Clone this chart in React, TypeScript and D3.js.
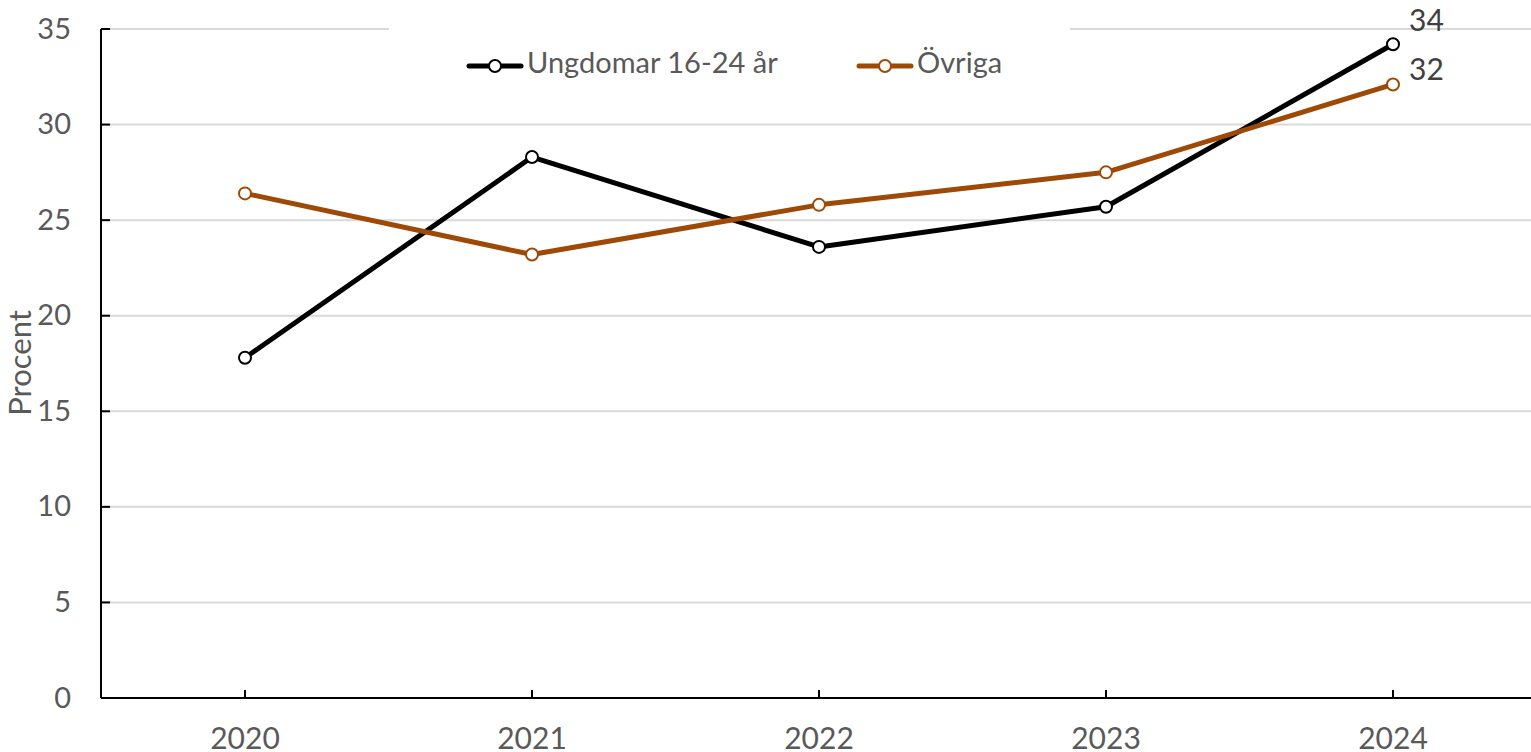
import React, { useRef, useEffect } from "react";
import * as d3 from "d3";

const years = ["2020", "2021", "2022", "2023", "2024"];
const ungdomar = [17.8, 28.3, 23.6, 25.7, 34.2];
const ovriga = [26.4, 23.2, 25.8, 27.5, 32.1];
const yTicks = [0, 5, 10, 15, 20, 25, 30, 35];
const seriesNames = ["Ungdomar 16-24 år", "Övriga"];
const endLabels = ["34", "32"];

const width = 1531;
const height = 752;
const colors = ["#000000", "#9E4A06"];
const fontFamily = "Lato, 'Open Sans', sans-serif";
const textColor = "#595959";

const App = () => {
  const ref = useRef(null);

  useEffect(() => {
    document.body.style.margin = "0";
    const svg = d3.select(ref.current);
    svg.selectAll("*").remove();

    const x = d3.scalePoint().domain(years).range([245, 1393]);
    const left = 101;
    const y = d3.scaleLinear().domain([0, 35]).range([698, 29]);

    // gridlines
    svg
      .append("g")
      .selectAll("line")
      .data(yTicks.filter((t) => t > 0))
      .enter()
      .append("line")
      .attr("x1", left)
      .attr("x2", width)
      .attr("y1", (d) => y(d))
      .attr("y2", (d) => y(d))
      .attr("stroke", "#D9D9D9")
      .attr("stroke-width", 2);

    // legend background hides the top gridline
    svg
      .append("rect")
      .attr("x", 389)
      .attr("y", 20)
      .attr("width", 681)
      .attr("height", 80)
      .attr("fill", "#fff");

    // y tick labels
    svg
      .append("g")
      .selectAll("text")
      .data(yTicks)
      .enter()
      .append("text")
      .attr("x", 71)
      .attr("y", (d) => y(d))
      .attr("dy", "0.33em")
      .attr("text-anchor", "end")
      .attr("font-family", fontFamily)
      .attr("font-size", 29)
      .attr("fill", textColor)
      .text((d) => d);

    // y ticks (inside)
    svg
      .append("g")
      .selectAll("line")
      .data(yTicks)
      .enter()
      .append("line")
      .attr("x1", left)
      .attr("x2", left + 9)
      .attr("y1", (d) => y(d))
      .attr("y2", (d) => y(d))
      .attr("stroke", "#000")
      .attr("stroke-width", 2);

    // axes lines
    svg
      .append("line")
      .attr("x1", left)
      .attr("x2", left)
      .attr("y1", y(35))
      .attr("y2", y(0))
      .attr("stroke", "#000")
      .attr("stroke-width", 2);
    svg
      .append("line")
      .attr("x1", left)
      .attr("x2", width)
      .attr("y1", y(0))
      .attr("y2", y(0))
      .attr("stroke", "#000")
      .attr("stroke-width", 2);

    // x ticks (inside) and labels
    svg
      .append("g")
      .selectAll("line")
      .data(years)
      .enter()
      .append("line")
      .attr("x1", (d) => x(d) ?? 0)
      .attr("x2", (d) => x(d) ?? 0)
      .attr("y1", y(0))
      .attr("y2", y(0) - 8)
      .attr("stroke", "#000")
      .attr("stroke-width", 2);
    svg
      .append("g")
      .selectAll("text")
      .data(years)
      .enter()
      .append("text")
      .attr("x", (d) => x(d) ?? 0)
      .attr("y", 749)
      .attr("text-anchor", "middle")
      .attr("font-family", fontFamily)
      .attr("font-size", 30)
      .attr("fill", textColor)
      .text((d) => d);

    // y axis title
    svg
      .append("text")
      .attr("transform", "translate(31,363) rotate(-90)")
      .attr("text-anchor", "middle")
      .attr("font-family", fontFamily)
      .attr("font-size", 31)
      .attr("fill", textColor)
      .text("Procent");

    // lines
    const line = d3
      .line<number>()
      .x((_, i) => x(years[i]) ?? 0)
      .y((d) => y(d));

    [ungdomar, ovriga].forEach((values, si) => {
      const g = svg.append("g");
      g.append("path")
        .datum(values)
        .attr("d", line)
        .attr("fill", "none")
        .attr("stroke", colors[si])
        .attr("stroke-width", 5)
        .attr("stroke-linejoin", "round");
      g.selectAll("circle")
        .data(values)
        .enter()
        .append("circle")
        .attr("cx", (_, i) => x(years[i]) ?? 0)
        .attr("cy", (d) => y(d))
        .attr("r", 6)
        .attr("fill", "#fff")
        .attr("stroke", colors[si])
        .attr("stroke-width", 2);
    });

    // end labels (top one is pushed up further, as in the original)
    const last = years[years.length - 1];
    const labelOffsets = [-24, -15];
    [ungdomar, ovriga].forEach((values, si) => {
      svg
        .append("text")
        .attr("x", (x(last) ?? 0) + 16)
        .attr("y", y(values[values.length - 1]) + labelOffsets[si])
        .attr("dy", "0.35em")
        .attr("font-family", fontFamily)
        .attr("font-size", 30)
        .attr("fill", "#404040")
        .text(endLabels[si]);
    });

    // legend
    const legendX = [467, 857];
    seriesNames.forEach((name, si) => {
      const g = svg.append("g").attr("transform", `translate(${legendX[si]},66)`);
      g.append("line")
        .attr("x1", 2)
        .attr("x2", 54)
        .attr("stroke", colors[si])
        .attr("stroke-width", 5)
        .attr("stroke-linecap", "round");
      g.append("circle")
        .attr("cx", 28)
        .attr("r", 6)
        .attr("fill", "#fff")
        .attr("stroke", colors[si])
        .attr("stroke-width", 2);
      g.append("text")
        .attr("x", 60)
        .attr("y", 7)
        .attr("font-family", fontFamily)
        .attr("font-size", 29)
        .attr("fill", textColor)
        .text(name);
    });
  }, []);

  return <svg ref={ref} width={width} height={height} style={{ display: "block" }} />;
};

export default App;
